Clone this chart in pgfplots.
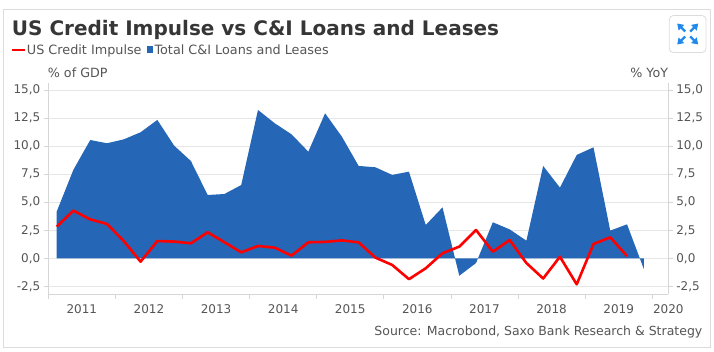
\documentclass[border=0pt]{standalone}
\usepackage{pgfplots}
\pgfplotsset{compat=1.18}
\usepackage{fontspec}
\setmainfont{DejaVu Sans}
\usetikzlibrary{arrows.meta}
\definecolor{cblue}{HTML}{2567B6}
\definecolor{cred}{HTML}{FF0000}
\definecolor{gridgray}{HTML}{E6E6E6}
\definecolor{axgray}{HTML}{D6D6D6}
\definecolor{txtgray}{HTML}{555555}
\definecolor{titlegray}{HTML}{363636}
\definecolor{framegray}{HTML}{DCDCDC}
\definecolor{iconblue}{HTML}{2189EC}

\pgfplotsset{
  mybase/.style={
    at={(axorig)}, anchor=south west, scale only axis,
    width=620pt, height=211pt,
    xmin=2011, xmax=2020.24, ymin=-3.18, ymax=15.62,
    ytick={-2.5,0,2.5,5,7.5,10,12.5,15},
    /pgf/number format/assume math mode=true,
    y tick label style={/pgf/number format/fixed, /pgf/number format/fixed zerofill,
      /pgf/number format/precision=1, /pgf/number format/use comma},
    tick label style={font=\fontsize{12}{14}\selectfont, text=txtgray},
    tick align=outside, major tick length=4.5pt,
    tick style={axgray, line width=0.8pt},
    axis line style={axgray, line width=0.8pt, -},
  }
}

\begin{document}
\begin{tikzpicture}[x=1pt,y=1pt]
\path[use as bounding box] (0,0) rectangle (714,-352);
\coordinate (axorig) at (48.3,-294);
\draw[framegray, line width=0.8pt] (3.3,-9.3) rectangle (710.3,-347.3);
% title
\node[anchor=base west, inner sep=0, text=titlegray, font=\fontsize{20}{24}\selectfont\bfseries]
  at (11.7,-36) {US Credit Impulse vs C\&I Loans and Leases};
% legend
\draw[cred, line width=2.6pt] (11.7,-50) -- (24.5,-50);
\node[anchor=base west, inner sep=0, text=txtgray, font=\fontsize{12.8}{15}\selectfont]
  at (26.7,-54.5) {US Credit Impulse};
\fill[cblue] (146.5,-46.5) rectangle (152.7,-53);
\node[anchor=base west, inner sep=0, text=txtgray, font=\fontsize{12.8}{15}\selectfont]
  at (154.3,-54.5) {Total C\&I Loans and Leases};
% icon
\draw[framegray, line width=0.8pt, rounded corners=4pt] (669.3,-15.5) rectangle (706,-52.5);
\begin{scope}[iconblue, line width=2.2pt, -{Triangle[length=6pt,width=7.5pt]}]
  \draw (685.2,-31.5) -- (677.2,-23.5);
  \draw (690.2,-31.5) -- (698.2,-23.5);
  \draw (685.2,-36.5) -- (677.2,-44.5);
  \draw (690.2,-36.5) -- (698.2,-44.5);
\end{scope}
% unit labels
\node[anchor=base west, inner sep=0, text=txtgray, font=\fontsize{12.7}{15}\selectfont]
  at (47.7,-78) {\% of GDP};
\node[anchor=base east, inner sep=0, text=txtgray, font=\fontsize{12.7}{15}\selectfont]
  at (668.3,-78) {\% YoY};
% source
\node[anchor=base east, inner sep=0, text=txtgray, font=\fontsize{12.5}{15}\selectfont]
  at (702.5,-335) {Source: Macrobond, Saxo Bank Research \& Strategy};

\begin{axis}[mybase,
  axis x line*=bottom, axis y line*=left,
  ymajorgrids, grid style={gridgray, line width=0.8pt},
  xtick={2011,2012,2013,2014,2015,2016,2017,2018,2019,2020},
  xticklabels={},
  extra x ticks={2011.5,2012.5,2013.5,2014.5,2015.5,2016.5,2017.5,2018.5,2019.5,2020.24},
  extra x tick labels={2011,2012,2013,2014,2015,2016,2017,2018,2019,2020},
  extra x tick style={major tick length=0pt, xticklabel style={yshift=-7pt}},
]
\addplot[fill=cblue, draw=none] coordinates {
(2011.125,4.16) (2011.375,7.9) (2011.625,10.54) (2011.875,10.25)
(2012.125,10.6) (2012.375,11.23) (2012.625,12.33) (2012.875,10.04)
(2013.125,8.67) (2013.375,5.64) (2013.625,5.73) (2013.875,6.53)
(2014.125,13.22) (2014.375,12.03) (2014.625,11.05) (2014.875,9.5)
(2015.125,12.92) (2015.375,10.84) (2015.625,8.23) (2015.875,8.11)
(2016.125,7.43) (2016.375,7.72) (2016.625,2.97) (2016.875,4.54)
(2017.125,-1.55) (2017.375,-0.42) (2017.625,3.21) (2017.875,2.58)
(2018.125,1.57) (2018.375,8.23) (2018.625,6.3) (2018.875,9.21)
(2019.125,9.89) (2019.375,2.47) (2019.625,3.03) (2019.875,-0.95)
} \closedcycle;
\addplot[cred, line width=2.6pt, line join=round, mark=none] coordinates {
(2011.125,2.82) (2011.375,4.25) (2011.625,3.47) (2011.875,3.06)
(2012.125,1.54) (2012.375,-0.3) (2012.625,1.54) (2012.875,1.49)
(2013.125,1.34) (2013.375,2.32) (2013.625,1.43) (2013.875,0.53)
(2014.125,1.1) (2014.375,0.95) (2014.625,0.24) (2014.875,1.43)
(2015.125,1.46) (2015.375,1.6) (2015.625,1.42) (2015.875,0.06)
(2016.125,-0.59) (2016.375,-1.86) (2016.625,-0.89) (2016.875,0.45)
(2017.125,1.04) (2017.375,2.52) (2017.625,0.59) (2017.875,1.63)
(2018.125,-0.42) (2018.375,-1.8) (2018.625,0.14) (2018.875,-2.32)
(2019.125,1.27) (2019.375,1.87) (2019.625,0.2)
};
\end{axis}

\begin{axis}[mybase,
  axis x line=none, axis y line*=right,
]
\end{axis}
\end{tikzpicture}
\end{document}
